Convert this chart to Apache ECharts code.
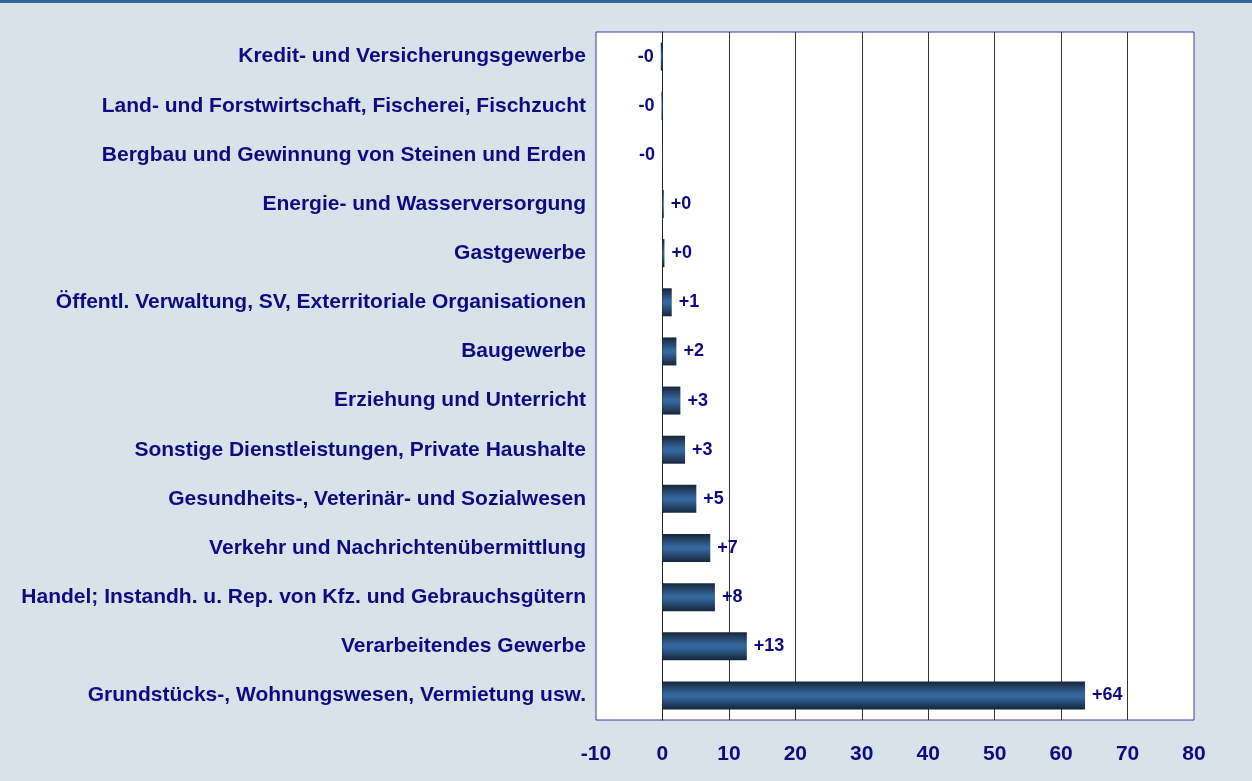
<!DOCTYPE html>
<html>
<head>
<meta charset="utf-8">
<script src="https://cdn.jsdelivr.net/npm/echarts@6/dist/echarts.min.js"></script>
<style>
  html, body { margin: 0; padding: 0; background: #d9e1e9; }
  #chart { width: 1252px; height: 781px; }
</style>
</head>
<body>
<div id="chart"></div>
<script>
const categories = [
  "Kredit- und Versicherungsgewerbe",
  "Land- und Forstwirtschaft, Fischerei, Fischzucht",
  "Bergbau und Gewinnung von Steinen und Erden",
  "Energie- und Wasserversorgung",
  "Gastgewerbe",
  "Öffentl. Verwaltung, SV, Exterritoriale Organisationen",
  "Baugewerbe",
  "Erziehung und Unterricht",
  "Sonstige Dienstleistungen, Private Haushalte",
  "Gesundheits-, Veterinär- und Sozialwesen",
  "Verkehr und Nachrichtenübermittlung",
  "Handel; Instandh. u. Rep. von Kfz. und Gebrauchsgütern",
  "Verarbeitendes Gewerbe",
  "Grundstücks-, Wohnungswesen, Vermietung usw."
];
const values = [-0.25, -0.15, -0.05, 0.2, 0.3, 1.4, 2.1, 2.7, 3.4, 5.1, 7.2, 7.9, 12.7, 63.6];
const xMin = -10, xMax = 80, xStep = 10;

const navy = "#0c0c80";
const font = "Liberation Sans, Arial, sans-serif";
const chart = echarts.init(document.getElementById("chart"));

const barFill = new echarts.graphic.LinearGradient(0, 0, 0, 1, [
  { offset: 0, color: "#16253a" },
  { offset: 0.45, color: "#34679c" },
  { offset: 0.55, color: "#34679c" },
  { offset: 1, color: "#16253a" }
]);

function fmt(v) {
  const r = Math.round(Math.abs(v));
  return (v < 0 ? "-" : "+") + r;
}

chart.setOption({
  backgroundColor: "#d9e1e9",
  animation: false,
  graphic: [
    { type: "rect", shape: { x: 0, y: 0, width: 1252, height: 3 }, style: { fill: "#35669a" } }
  ],
  grid: {
    left: 596, right: 58, top: 32, bottom: 61,
    show: true, backgroundColor: "#ffffff", borderColor: "#3a3aa0", borderWidth: 1
  },
  xAxis: {
    type: "value",
    min: xMin, max: xMax, interval: xStep,
    axisLine: { show: false },
    axisTick: { show: false },
    axisLabel: {
      color: navy, fontFamily: font, fontWeight: "bold", fontSize: 21,
      margin: 24
    },
    splitLine: {
      show: true,
      showMinLine: false,
      showMaxLine: false,
      lineStyle: { color: "#333333", width: 1 }
    }
  },
  yAxis: {
    type: "category",
    data: categories,
    inverse: true,
    axisLine: { show: true, onZero: true, lineStyle: { color: "#222222", width: 1 } },
    axisTick: { show: false },
    axisLabel: {
      color: navy, fontFamily: font, fontWeight: "bold", fontSize: 21,
      margin: 10
    },
    splitLine: { show: false }
  },
  series: [{
    type: "bar",
    barWidth: 28,
    data: values.map(v => ({
      value: v,
      label: { position: v < 0 ? "left" : "right" }
    })),
    itemStyle: { color: barFill },
    label: {
      show: true,
      distance: 7,
      color: navy,
      fontFamily: font,
      fontWeight: "bold",
      fontSize: 18,
      formatter: p => fmt(p.value)
    }
  }]
});
</script>
</body>
</html>
